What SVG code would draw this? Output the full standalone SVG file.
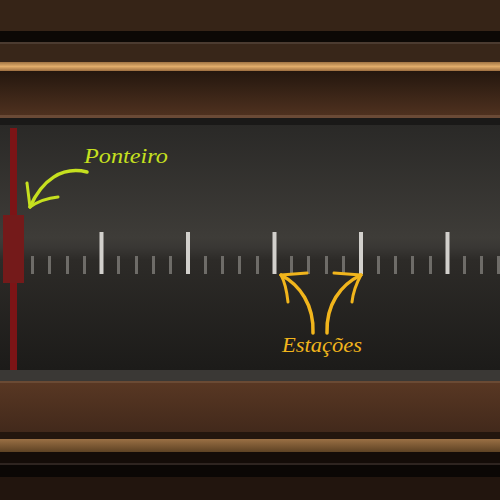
<svg xmlns="http://www.w3.org/2000/svg" width="500" height="500" viewBox="0 0 500 500">
<style>
.lbl{font-family:"Liberation Serif","DejaVu Serif",serif;font-style:italic;font-size:22px}
.tick-s{fill:#6e6c68}
.tick-l{fill:#d2d0cc}
.arrowA{fill:none;stroke:#c6e01f;stroke-linecap:round;stroke-linejoin:round}
.arrowB{fill:none;stroke:#f1b51c;stroke-linecap:round;stroke-linejoin:round}
</style>
<defs>
<filter id="soft" x="-20%" y="-20%" width="140%" height="140%"><feGaussianBlur stdDeviation="0.6"/></filter>
<linearGradient id="gTop" x1="0" y1="0" x2="0" y2="1">
<stop offset="0" stop-color="#24170e"/><stop offset="1" stop-color="#503220"/>
</linearGradient>
<linearGradient id="gDial" x1="0" y1="0" x2="0" y2="1">
<stop offset="0" stop-color="#2a2927"/>
<stop offset="0.46" stop-color="#3e3c38"/>
<stop offset="0.5" stop-color="#393734"/>
<stop offset="0.55" stop-color="#2d2b28"/>
<stop offset="1" stop-color="#1c1b19"/>
</linearGradient>
<linearGradient id="gBot" x1="0" y1="0" x2="0" y2="1">
<stop offset="0" stop-color="#583723"/><stop offset="1" stop-color="#42291b"/>
</linearGradient>
<linearGradient id="gGold1" x1="0" y1="0" x2="0" y2="1">
<stop offset="0" stop-color="#a07444"/><stop offset="0.5" stop-color="#e0ac6a"/><stop offset="1" stop-color="#9c6e40"/>
</linearGradient>
<linearGradient id="gGold2" x1="0" y1="0" x2="0" y2="1">
<stop offset="0" stop-color="#9a7044"/><stop offset="1" stop-color="#5e4224"/>
</linearGradient>
</defs>
<g id="frame">
<rect x="0" y="0" width="500" height="31" fill="#362417"/>
<rect x="0" y="31" width="500" height="11" fill="#0c0805"/>
<rect x="0" y="42" width="500" height="2" fill="#4b3b30"/>
<rect x="0" y="44" width="500" height="18" fill="#382619"/>
<rect x="0" y="62" width="500" height="9" fill="url(#gGold1)"/>
<rect x="0" y="71" width="500" height="46" fill="url(#gTop)"/>
<rect x="0" y="115" width="500" height="3" fill="#6a4a36"/>
<rect x="0" y="118" width="500" height="7" fill="#1a1918"/>
<rect x="0" y="125" width="500" height="245" fill="url(#gDial)"/>
<rect x="0" y="370" width="500" height="11" fill="#3a3835"/>
<rect x="0" y="381" width="500" height="2" fill="#6a4a34"/>
<rect x="0" y="383" width="500" height="49" fill="url(#gBot)"/>
<rect x="0" y="432" width="500" height="7" fill="#23160e"/>
<rect x="0" y="439" width="500" height="13" fill="url(#gGold2)"/>
<rect x="0" y="452" width="500" height="11" fill="#140c08"/>
<rect x="0" y="463" width="500" height="2" fill="#2e2420"/>
<rect x="0" y="465" width="500" height="12" fill="#0b0705"/>
<rect x="0" y="477" width="500" height="23" fill="#22150e"/>
</g>
<g id="ticks" filter="url(#soft)">
<rect class="tick-s" x="31" y="256" width="3" height="18"/>
<rect class="tick-s" x="48" y="256" width="3" height="18"/>
<rect class="tick-s" x="66" y="256" width="3" height="18"/>
<rect class="tick-s" x="83" y="256" width="3" height="18"/>
<rect class="tick-l" x="99.5" y="232" width="4" height="42"/>
<rect class="tick-s" x="117" y="256" width="3" height="18"/>
<rect class="tick-s" x="135" y="256" width="3" height="18"/>
<rect class="tick-s" x="152" y="256" width="3" height="18"/>
<rect class="tick-s" x="169" y="256" width="3" height="18"/>
<rect class="tick-l" x="186" y="232" width="4" height="42"/>
<rect class="tick-s" x="204" y="256" width="3" height="18"/>
<rect class="tick-s" x="221" y="256" width="3" height="18"/>
<rect class="tick-s" x="238" y="256" width="3" height="18"/>
<rect class="tick-s" x="256" y="256" width="3" height="18"/>
<rect class="tick-l" x="272.5" y="232" width="4" height="42"/>
<rect class="tick-s" x="290" y="256" width="3" height="18"/>
<rect class="tick-s" x="307" y="256" width="3" height="18"/>
<rect class="tick-s" x="325" y="256" width="3" height="18"/>
<rect class="tick-s" x="342" y="256" width="3" height="18"/>
<rect class="tick-l" x="359" y="232" width="4" height="42"/>
<rect class="tick-s" x="377" y="256" width="3" height="18"/>
<rect class="tick-s" x="394" y="256" width="3" height="18"/>
<rect class="tick-s" x="411" y="256" width="3" height="18"/>
<rect class="tick-s" x="429" y="256" width="3" height="18"/>
<rect class="tick-l" x="445.5" y="232" width="4" height="42"/>
<rect class="tick-s" x="463" y="256" width="3" height="18"/>
<rect class="tick-s" x="480" y="256" width="3" height="18"/>
<rect class="tick-s" x="497" y="256" width="3" height="18"/>
</g>
<g id="pointer">
<rect x="10" y="128" width="7" height="242" fill="#7c1416"/>
<rect x="3" y="215" width="21" height="68" fill="#741a1a"/>
</g>
<g id="connectors">
<g class="arrowA">
<path d="M87 172 C62 166 42 180 30 207" stroke-width="3.5"/>
<path d="M30 207 L27 183" stroke-width="3"/>
<path d="M30 207 C40 200 48 198 58 197" stroke-width="3"/>
</g>
<g class="arrowB">
<path d="M313 333 C314 305 300 285 281 275" stroke-width="3.5"/>
<path d="M281 275 L307 273" stroke-width="3"/>
<path d="M281 275 C286 284 287 293 288 302" stroke-width="3"/>
<path d="M327 333 C326 305 340 285 361 275" stroke-width="3.5"/>
<path d="M361 275 L334 273" stroke-width="3"/>
<path d="M361 275 C356 284 353 293 352 302" stroke-width="3"/>
</g>
</g>
<g id="label-ponteiro">
<text class="lbl" x="84" y="163" fill="#c6e01f" textLength="84" lengthAdjust="spacingAndGlyphs">Ponteiro</text>
</g>
<g id="label-estacoes">
<text class="lbl" x="282" y="352" fill="#f1b51c" textLength="80" lengthAdjust="spacingAndGlyphs">Estações</text>
</g>
</svg>
